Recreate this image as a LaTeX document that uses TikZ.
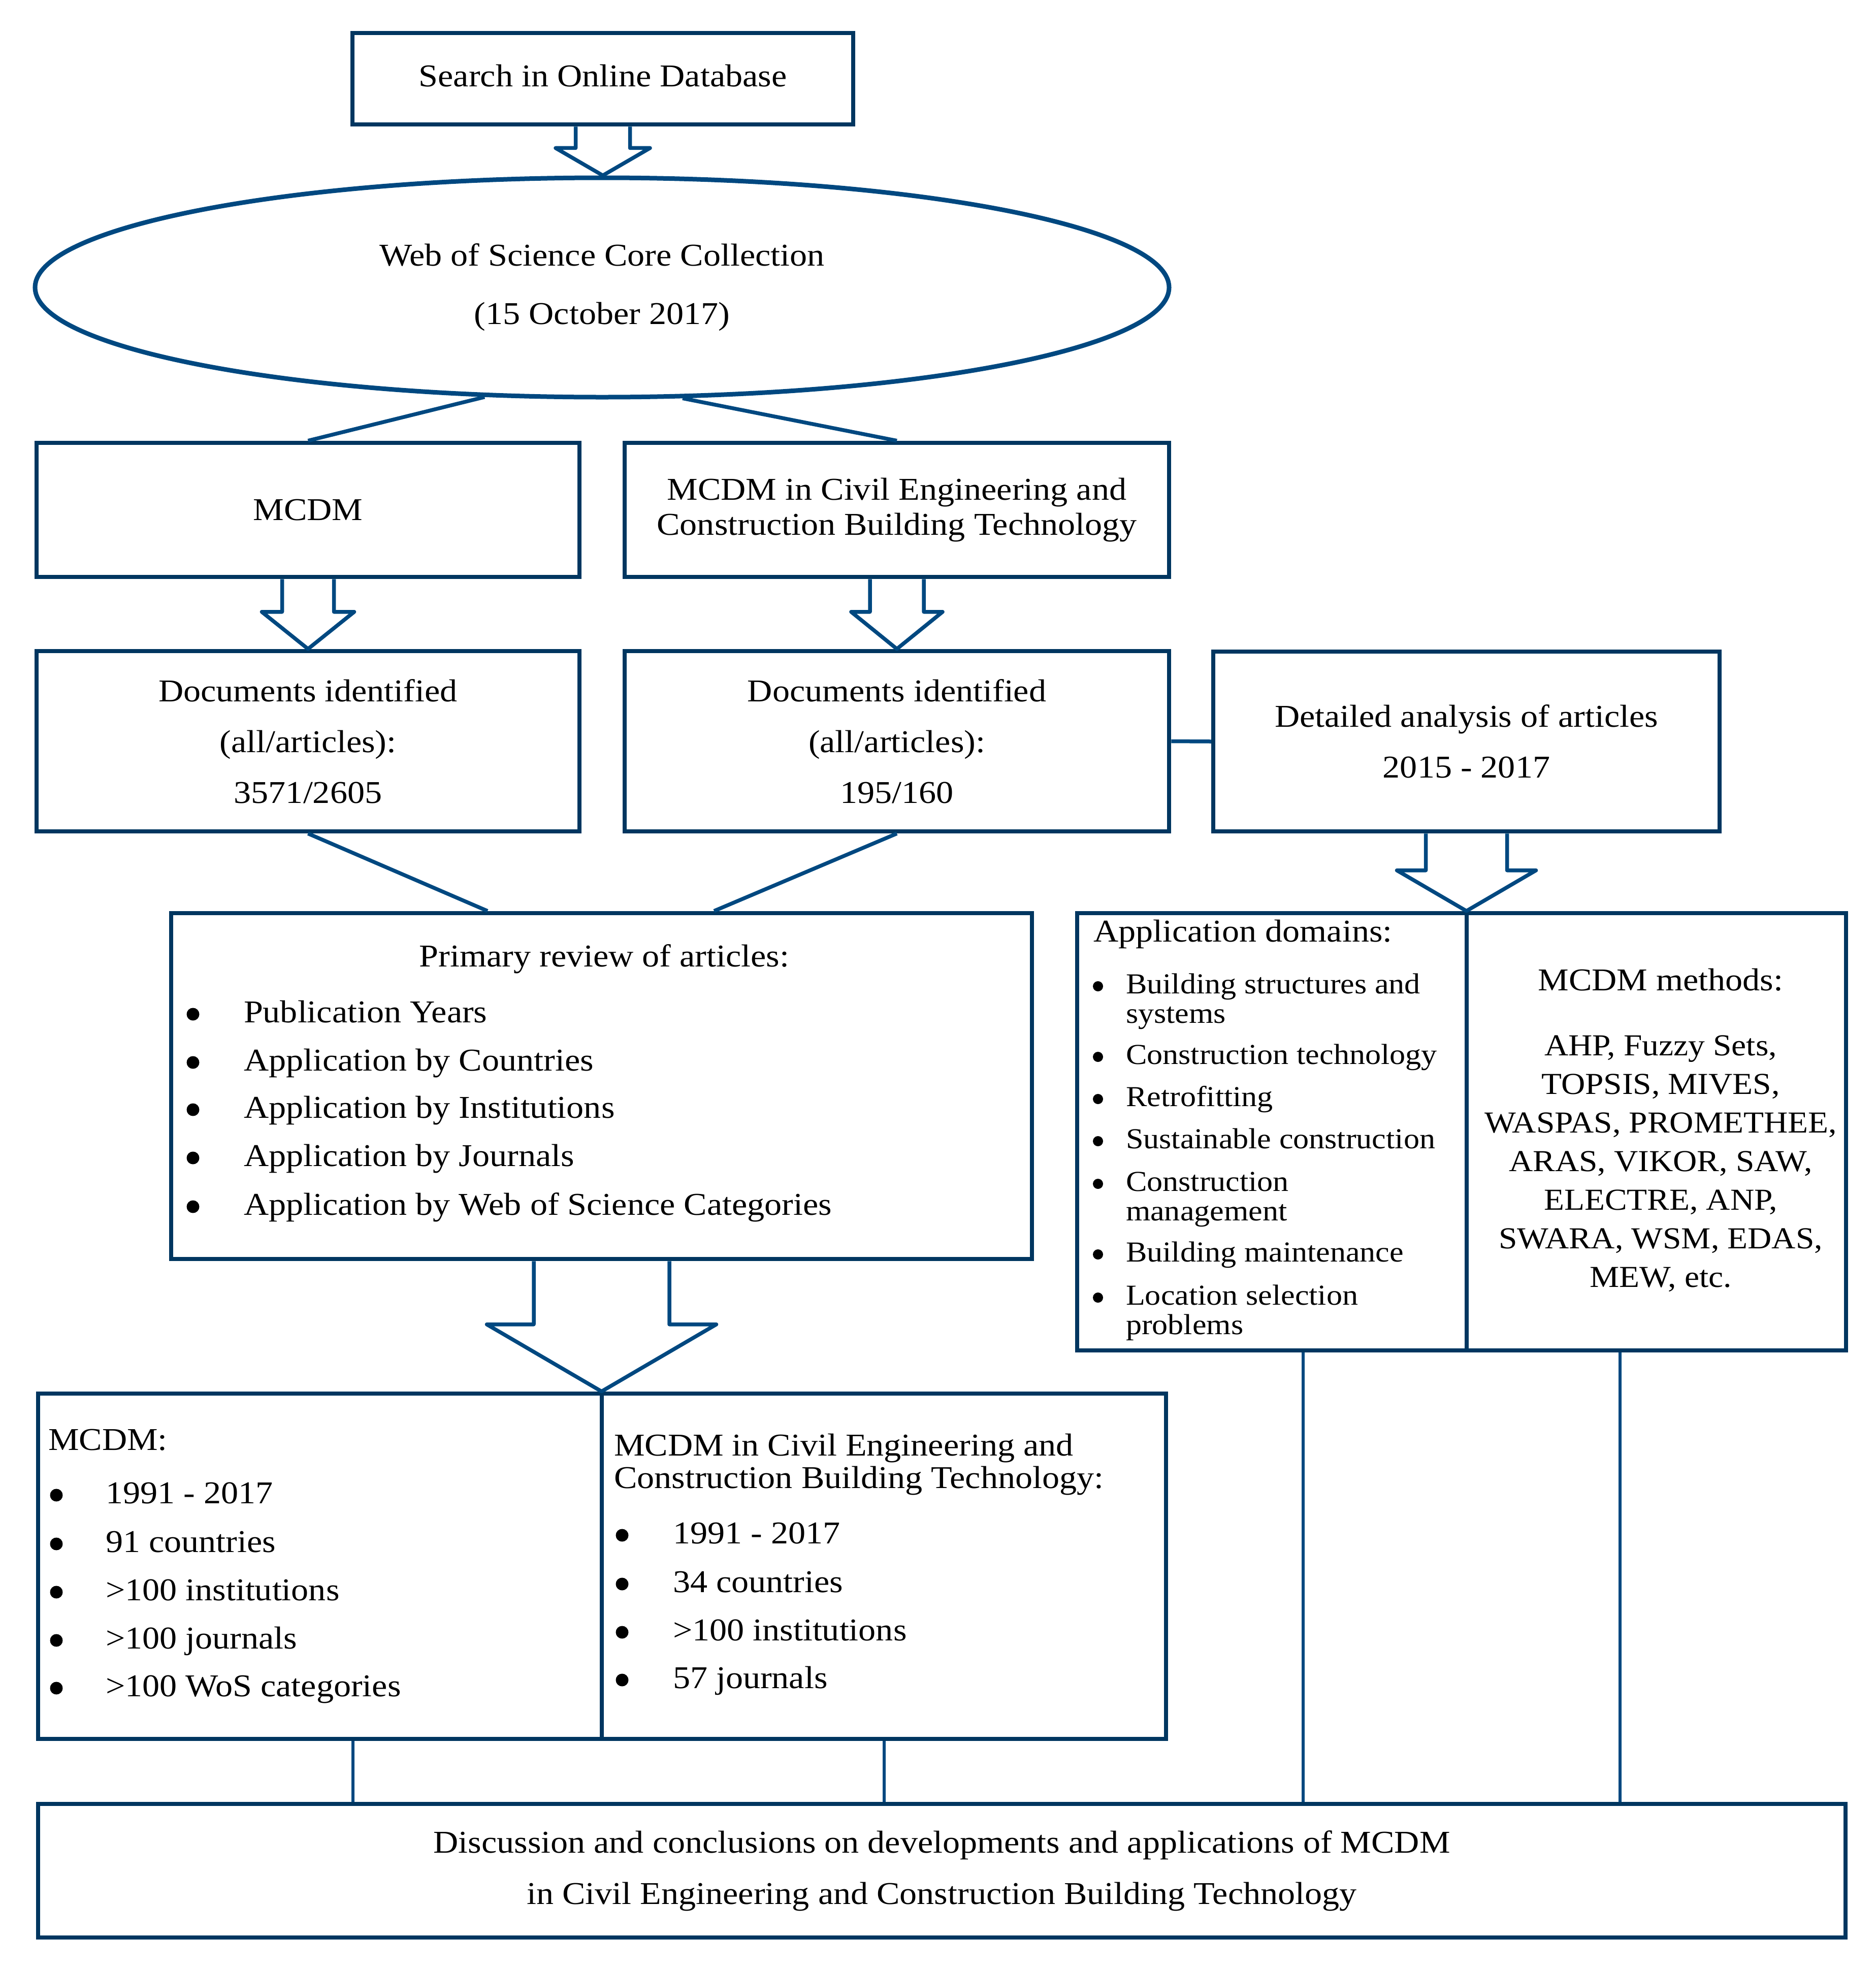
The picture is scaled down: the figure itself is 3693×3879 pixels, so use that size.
\documentclass[tikz,border=0pt]{standalone}
\usepackage{fontspec}
\setmainfont{Liberation Serif}[FakeStretch=1.09]
\usetikzlibrary{shapes.geometric,calc}
\definecolor{navy}{RGB}{0,54,96}
\definecolor{lblue}{RGB}{0,72,128}
\newcommand{\fsz}[2]{\fontsize{#1}{#2}\selectfont}
\newcommand{\harrow}[5]{%
  \draw[harrowsty] let \p1=(#1), \p2=(#2) in
   (\x1-#3,\y1) -- (\x1-#3,\y2+#5) -- (\x1-#4,\y2+#5) -- (\x1,\y2)
   -- (\x1+#4,\y2+#5) -- (\x1+#3,\y2+#5) -- (\x1+#3,\y1);}
\begin{document}
\begin{tikzpicture}[x=0.2pt,y=-0.2pt,
  every node/.style={font=\fsz{12.5}{15}},
  box/.style={draw=navy,line width=1.7pt,rectangle,inner sep=0pt,align=center},
  harrowsty/.style={draw=lblue,line width=1.5pt,line join=round},
  diag/.style={draw=lblue,line width=1.5pt},
  conn/.style={draw=lblue,line width=1.2pt},
  tx/.style={inner sep=0pt,anchor=base west},
  small/.style={font=\fsz{11.4}{11.6}},
  bul/.style={fill=black}]
\useasboundingbox (0,0) rectangle (3693,3879);

% boxes
\node[box,minimum width=197.2pt,minimum height=36pt,text depth=2.4pt] (search) at (1187,155) {Search in Online Database};
\node[ellipse,draw=lblue,line width=1.8pt,inner sep=0pt,minimum width=446.6pt,minimum height=86.4pt,align=center,font=\fsz{12.5}{23}] (wos) at (1185.5,566) {Web of Science Core Collection\\(15 October 2017)};
\node[box,minimum width=213.8pt,minimum height=52.8pt] (mcdm) at (606.5,1004) {MCDM};
\node[box,minimum width=214.4pt,minimum height=52.8pt,font=\fsz{12.5}{13.8}] (mcce) at (1766,1004) {MCDM in Civil Engineering and\\Construction Building Technology};
\node[box,minimum width=213.8pt,minimum height=71pt,font=\fsz{12.5}{20}] (doc1) at (606.5,1459.5) {Documents identified\\(all/articles):\\3571/2605};
\node[box,minimum width=214.4pt,minimum height=71pt,font=\fsz{12.5}{20}] (doc2) at (1766,1459.5) {Documents identified\\(all/articles):\\195/160};
\node[box,minimum width=199.4pt,minimum height=70.8pt,font=\fsz{12.5}{20}] (detail) at (2887.5,1460) {Detailed analysis of articles\\2015 - 2017};
\node[box,minimum width=339pt,minimum height=136.2pt] (prim) at (1184.5,2138.5) {};
\node[box,minimum width=153.4pt,minimum height=172.2pt] (app) at (2504.5,2228.5) {};
\node[box,minimum width=149.4pt,minimum height=172.2pt] (meth) at (3261.5,2228.5) {};
\node[box,minimum width=222pt,minimum height=136pt] (res1) at (630,3084) {};
\node[box,minimum width=222.2pt,minimum height=136pt] (res2) at (1740.5,3084) {};
\node[box,minimum width=711.8pt,minimum height=52.6pt,font=\fsz{12.5}{20.2}] (concl) at (1854.5,3683.5) {Discussion and conclusions on developments and applications of MCDM\\in Civil Engineering and Construction Building Technology};

% hollow arrows
\harrow{search.south}{wos.north}{10.7pt}{18.6pt}{10.8pt}
\harrow{mcdm.south}{doc1.north}{10.2pt}{18.2pt}{14.6pt}
\harrow{mcce.south}{doc2.north}{10.6pt}{18pt}{14.6pt}
\harrow{detail.south}{app.north east}{16pt}{27.4pt}{16pt}
\harrow{prim.south}{res1.north east}{26.7pt}{45.2pt}{26.4pt}

% connectors
\draw[diag] (wos.223.9) -- (mcdm.north);
\draw[diag] (wos.306.96) -- (mcce.north);
\coordinate (pl) at ($(prim.north)+(-224.5,0)$);
\coordinate (pr) at ($(prim.north)+(221.5,0)$);
\draw[diag] (doc1.south) -- (pl);
\draw[diag] (doc2.south) -- (pr);
\draw[diag] (doc2.east) -- (detail.west);
\coordinate (v1) at ($(res1.south)+(65,0)$);
\coordinate (v2) at (res2.south);
\coordinate (v3) at ($(app.south)+(61.5,0)$);
\coordinate (v4) at ($(meth.south)+(-71.5,0)$);
\draw[conn] (v1) -- (v1 |- concl.north);
\draw[conn] (v2) -- (v2 |- concl.north);
\draw[conn] (v3) -- (v3 |- concl.north);
\draw[conn] (v4) -- (v4 |- concl.north);

% primary review contents
\node[inner sep=0pt] (primt) at (1190,1888) {Primary review of articles:};
\node[tx] (p1) at (479,2013) {Publication Years};
\node[tx] (p2) at (479,2108) {Application by Countries};
\node[tx] (p3) at (479,2201) {Application by Institutions};
\node[tx] (p4) at (479,2296) {Application by Journals};
\node[tx] (p5) at (479,2392) {Application by Web of Science Categories};
\foreach \yy in {1997,2092,2185,2280,2376} \fill[bul] (380,\yy) circle (2.5pt);

% application domains
\node[tx] (appt) at (2152,1854) {Application domains:};
\node[tx,small] (a1) at (2216,1956) {\vtop{\hbox{Building structures and}\hbox{systems}}};
\node[tx,small] (a2) at (2216,2095) {Construction technology};
\node[tx,small] (a3) at (2216,2178) {Retrofitting};
\node[tx,small] (a4) at (2216,2261) {Sustainable construction};
\node[tx,small] (a5) at (2216,2345) {\vtop{\hbox{Construction}\hbox{management}}};
\node[tx,small] (a6) at (2216,2484) {Building maintenance};
\node[tx,small] (a7) at (2216,2569) {\vtop{\hbox{Location selection}\hbox{problems}}};
\foreach \yy in {1942,2081,2164,2247,2331,2470,2555} \fill[bul] (2162,\yy) circle (2pt);

% methods
\node[inner sep=0pt] (metht) at (3270,1929) {MCDM methods:};
\node[inner sep=0pt,align=center,font=\fsz{12}{15.2}] (methl) at (3270,2291) {AHP, Fuzzy Sets,\\TOPSIS, MIVES,\\WASPAS, PROMETHEE,\\ARAS, VIKOR, SAW,\\ELECTRE, ANP,\\SWARA, WSM, EDAS,\\MEW, etc.};

% results left
\node[tx] (r1t) at (94,2855) {MCDM:};
\node[tx] (r11) at (207,2960) {1991 - 2017};
\node[tx] (r12) at (207,3056) {91 countries};
\node[tx] (r13) at (207,3151) {>100 institutions};
\node[tx] (r14) at (207,3246) {>100 journals};
\node[tx] (r15) at (207,3340) {>100 WoS categories};
\foreach \yy in {2944,3040,3135,3230,3324} \fill[bul] (111,\yy) circle (2.5pt);

% results right
\node[tx,font=\fsz{12.5}{12.8}] (r2t) at (1208,2866) {\vtop{\hbox{MCDM in Civil Engineering and}\hbox{Construction Building Technology:}}};
\node[tx] (r21) at (1324,3039) {1991 - 2017};
\node[tx] (r22) at (1324,3135) {34 countries};
\node[tx] (r23) at (1324,3230) {>100 institutions};
\node[tx] (r24) at (1324,3324) {57 journals};
\foreach \yy in {3023,3119,3214,3308} \fill[bul] (1225,\yy) circle (2.5pt);
\end{tikzpicture}
\end{document}
